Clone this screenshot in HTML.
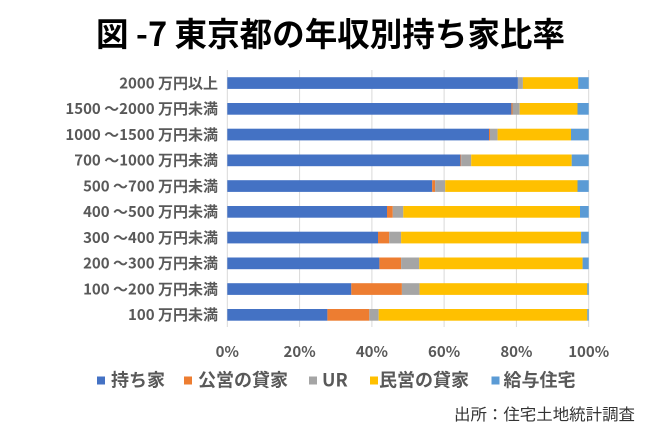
<!DOCTYPE html>
<html>
<head>
<meta charset="utf-8">
<style>
html,body{margin:0;padding:0;background:#fff;}
svg{display:block;}
text{font-family:"Liberation Sans","Noto Sans CJK JP",sans-serif;}
.cat{font-family:"Noto Sans CJK JP","Liberation Sans",sans-serif;font-size:15px;font-weight:bold;fill:#595959;text-anchor:end;}
.tick{font-family:"Noto Sans CJK JP","Liberation Sans",sans-serif;font-size:15px;font-weight:bold;fill:#595959;text-anchor:middle;}
.leg{font-family:"Noto Sans CJK JP","Liberation Sans",sans-serif;font-size:18px;font-weight:bold;fill:#595959;}
</style>
</head>
<body>
<svg width="650" height="433" viewBox="0 0 650 433" xmlns="http://www.w3.org/2000/svg">
<rect width="650" height="433" fill="#fff"/>
<text x="96" y="46" font-size="33" font-weight="bold" fill="#000" textLength="469" lengthAdjust="spacingAndGlyphs" style="font-family:'Noto Sans CJK JP','Liberation Sans',sans-serif;">図 -7 東京都の年収別持ち家比率</text>

<g stroke="#d9d9d9" stroke-width="1">
<line x1="227.3" y1="70" x2="227.3" y2="327"/>
<line x1="299.6" y1="70" x2="299.6" y2="327"/>
<line x1="371.9" y1="70" x2="371.9" y2="327"/>
<line x1="444.1" y1="70" x2="444.1" y2="327"/>
<line x1="516.4" y1="70" x2="516.4" y2="327"/>
<line x1="588.7" y1="70" x2="588.7" y2="327"/>
</g>

<!-- bars -->
<g transform="translate(0,77.2)">
<rect x="227.3" y="0" width="290.6" height="11.7" fill="#4472C4"/>
<rect x="517.9" y="0" width="5.0" height="11.7" fill="#A5A5A5"/>
<rect x="522.9" y="0" width="55.3" height="11.7" fill="#FFC000"/>
<rect x="578.2" y="0" width="10.5" height="11.7" fill="#5B9BD5"/>
</g>
<g transform="translate(0,103.0)">
<rect x="227.3" y="0" width="284.1" height="11.7" fill="#4472C4"/>
<rect x="511.4" y="0" width="1.1" height="11.7" fill="#ED7D31"/>
<rect x="512.5" y="0" width="7.2" height="11.7" fill="#A5A5A5"/>
<rect x="519.7" y="0" width="57.8" height="11.7" fill="#FFC000"/>
<rect x="577.5" y="0" width="11.2" height="11.7" fill="#5B9BD5"/>
</g>
<g transform="translate(0,128.7)">
<rect x="227.3" y="0" width="261.7" height="11.7" fill="#4472C4"/>
<rect x="489.0" y="0" width="1.0" height="11.7" fill="#ED7D31"/>
<rect x="490.0" y="0" width="7.6" height="11.7" fill="#A5A5A5"/>
<rect x="497.6" y="0" width="73.4" height="11.7" fill="#FFC000"/>
<rect x="571.0" y="0" width="17.7" height="11.7" fill="#5B9BD5"/>
</g>
<g transform="translate(0,154.5)">
<rect x="227.3" y="0" width="233.1" height="11.7" fill="#4472C4"/>
<rect x="460.4" y="0" width="0.8" height="11.7" fill="#ED7D31"/>
<rect x="461.2" y="0" width="10.0" height="11.7" fill="#A5A5A5"/>
<rect x="471.2" y="0" width="100.5" height="11.7" fill="#FFC000"/>
<rect x="571.7" y="0" width="17.0" height="11.7" fill="#5B9BD5"/>
</g>
<g transform="translate(0,180.2)">
<rect x="227.3" y="0" width="204.9" height="11.7" fill="#4472C4"/>
<rect x="432.2" y="0" width="2.9" height="11.7" fill="#ED7D31"/>
<rect x="435.1" y="0" width="10.1" height="11.7" fill="#A5A5A5"/>
<rect x="445.2" y="0" width="132.3" height="11.7" fill="#FFC000"/>
<rect x="577.5" y="0" width="11.2" height="11.7" fill="#5B9BD5"/>
</g>
<g transform="translate(0,206.0)">
<rect x="227.3" y="0" width="159.7" height="11.7" fill="#4472C4"/>
<rect x="387.0" y="0" width="5.8" height="11.7" fill="#ED7D31"/>
<rect x="392.8" y="0" width="10.5" height="11.7" fill="#A5A5A5"/>
<rect x="403.3" y="0" width="176.7" height="11.7" fill="#FFC000"/>
<rect x="580.0" y="0" width="8.7" height="11.7" fill="#5B9BD5"/>
</g>
<g transform="translate(0,231.7)">
<rect x="227.3" y="0" width="150.7" height="11.7" fill="#4472C4"/>
<rect x="378.0" y="0" width="11.2" height="11.7" fill="#ED7D31"/>
<rect x="389.2" y="0" width="11.9" height="11.7" fill="#A5A5A5"/>
<rect x="401.1" y="0" width="180.0" height="11.7" fill="#FFC000"/>
<rect x="581.1" y="0" width="7.6" height="11.7" fill="#5B9BD5"/>
</g>
<g transform="translate(0,257.5)">
<rect x="227.3" y="0" width="152.1" height="11.7" fill="#4472C4"/>
<rect x="379.4" y="0" width="21.7" height="11.7" fill="#ED7D31"/>
<rect x="401.1" y="0" width="18.1" height="11.7" fill="#A5A5A5"/>
<rect x="419.2" y="0" width="163.4" height="11.7" fill="#FFC000"/>
<rect x="582.6" y="0" width="6.1" height="11.7" fill="#5B9BD5"/>
</g>
<g transform="translate(0,283.2)">
<rect x="227.3" y="0" width="124.0" height="11.7" fill="#4472C4"/>
<rect x="351.3" y="0" width="50.6" height="11.7" fill="#ED7D31"/>
<rect x="401.9" y="0" width="17.7" height="11.7" fill="#A5A5A5"/>
<rect x="419.6" y="0" width="167.7" height="11.7" fill="#FFC000"/>
<rect x="587.3" y="0" width="1.4" height="11.7" fill="#5B9BD5"/>
</g>
<g transform="translate(0,309.0)">
<rect x="227.3" y="0" width="100.1" height="11.7" fill="#4472C4"/>
<rect x="327.4" y="0" width="41.9" height="11.7" fill="#ED7D31"/>
<rect x="369.3" y="0" width="9.4" height="11.7" fill="#A5A5A5"/>
<rect x="378.7" y="0" width="208.6" height="11.7" fill="#FFC000"/>
<rect x="587.3" y="0" width="1.4" height="11.7" fill="#5B9BD5"/>
</g>

<!-- category labels -->
<text class="cat" x="218" y="88.4">2000 万円以上</text>
<text class="cat" x="218" y="114.1">1500 ～2000 万円未満</text>
<text class="cat" x="218" y="139.9">1000 ～1500 万円未満</text>
<text class="cat" x="218" y="165.6">700 ～1000 万円未満</text>
<text class="cat" x="218" y="191.4">500 ～700 万円未満</text>
<text class="cat" x="218" y="217.1">400 ～500 万円未満</text>
<text class="cat" x="218" y="242.9">300 ～400 万円未満</text>
<text class="cat" x="218" y="268.6">200 ～300 万円未満</text>
<text class="cat" x="218" y="294.4">100 ～200 万円未満</text>
<text class="cat" x="218" y="320.1">100 万円未満</text>

<!-- x ticks -->
<text class="tick" x="227.3" y="357">0%</text>
<text class="tick" x="299.6" y="357">20%</text>
<text class="tick" x="371.9" y="357">40%</text>
<text class="tick" x="444.1" y="357">60%</text>
<text class="tick" x="516.4" y="357">80%</text>
<text class="tick" x="588.7" y="357">100%</text>

<!-- legend -->
<rect x="97" y="376.5" width="8" height="8" fill="#4472C4"/>
<text class="leg" x="111" y="386.5">持ち家</text>
<rect x="184" y="376.5" width="8" height="8" fill="#ED7D31"/>
<text class="leg" x="198" y="386.5">公営の貸家</text>
<rect x="309" y="376.5" width="8" height="8" fill="#A5A5A5"/>
<text class="leg" x="322" y="386.5">UR</text>
<rect x="370" y="376.5" width="8" height="8" fill="#FFC000"/>
<text class="leg" x="379" y="386.5">民営の貸家</text>
<rect x="491.5" y="376.5" width="8" height="8" fill="#5B9BD5"/>
<text class="leg" x="503.5" y="386.5">給与住宅</text>

<!-- source -->
<text x="454" y="420" font-size="16" fill="#333" textLength="181" lengthAdjust="spacingAndGlyphs" style="font-family:'Noto Sans CJK JP','Liberation Sans',sans-serif;">出所：住宅土地統計調査</text>
</svg>
</body>
</html>
